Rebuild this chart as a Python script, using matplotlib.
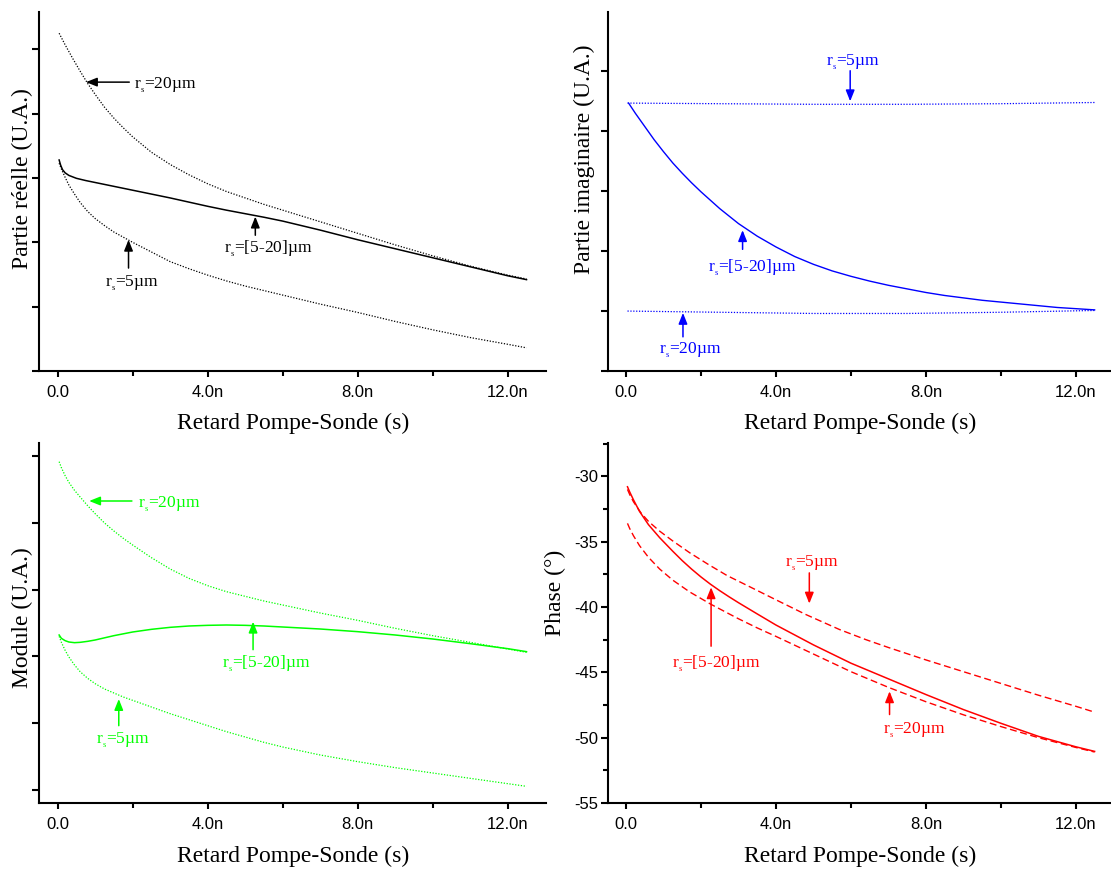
import numpy as np
import matplotlib
matplotlib.use("Agg")
import matplotlib.pyplot as plt
from matplotlib.ticker import FixedLocator

plt.rcParams['mathtext.fontset'] = 'custom'
plt.rcParams['mathtext.rm'] = 'Liberation Serif'
plt.rcParams['mathtext.it'] = 'Liberation Serif:italic'
plt.rcParams['axes.unicode_minus'] = False

SERIF = 'Liberation Serif'
SANS = 'Liberation Sans'

# ---------------- data (time in ns) ----------------
x_major = [0, 4, 8, 12]
x_minor = [2, 6, 10]
x_labels = ['0.0', '4.0n', '8.0n', '12.0n']

# Partie reelle
t_re20 = [0.04, 0.2, 0.4, 0.6, 0.8, 1.0, 1.25, 1.5, 1.75, 2.0, 2.5, 3.0, 3.5, 4.0, 4.5,
          5.0, 5.5, 6.0, 7.0, 8.0, 9.0, 10.0, 11.0, 12.0, 12.5]
re_20 = [5.25, 5.07, 4.86, 4.66, 4.47, 4.30, 4.10, 3.93, 3.78, 3.64, 3.40, 3.21, 3.05, 2.91,
         2.79, 2.69, 2.59, 2.50, 2.32, 2.14, 1.96, 1.79, 1.63, 1.49, 1.43]
t_remix = [0.04, 0.08, 0.13, 0.2, 0.3, 0.5, 0.75, 1.0, 1.5, 2.0, 2.5, 3.0, 3.5, 4.0, 4.5,
           5.0, 5.5, 6.0, 7.0, 8.0, 9.0, 10.0, 11.0, 12.0, 12.5]
re_mix = [3.28, 3.20, 3.13, 3.08, 3.04, 2.995, 2.96, 2.93, 2.87, 2.81, 2.75, 2.69, 2.625, 2.56,
          2.50, 2.445, 2.39, 2.33, 2.19, 2.04, 1.90, 1.76, 1.62, 1.48, 1.42]
t_re5 = [0.04, 0.1, 0.2, 0.3, 0.45, 0.6, 0.8, 1.0, 1.25, 1.5, 1.75, 2.0, 2.5, 3.0, 3.5, 4.0,
         4.5, 5.0, 5.5, 6.0, 7.0, 8.0, 9.0, 10.0, 11.0, 12.0, 12.5]
re_5 = [3.23, 3.14, 3.01, 2.89, 2.75, 2.62, 2.48, 2.37, 2.26, 2.16, 2.08, 2.00, 1.85, 1.70,
        1.59, 1.49, 1.40, 1.32, 1.25, 1.18, 1.04, 0.91, 0.77, 0.64, 0.52, 0.415, 0.36]

# Partie imaginaire
t_im_flat = [0.04, 2.5, 5.0, 7.5, 10.0, 12.5]
im_5 = [4.47, 4.46, 4.45, 4.45, 4.46, 4.48]
im_20 = [1.00, 0.98, 0.96, 0.96, 0.98, 1.01]
t_im = [0.07, 0.25, 0.5, 0.75, 1.0, 1.25, 1.5, 1.75, 2.0, 2.5, 3.0, 3.5, 4.0, 4.5, 5.0, 5.5,
        6.0, 6.5, 7.0, 7.5, 8.0, 8.5, 9.0, 9.5, 10.0, 10.5, 11.0, 11.5, 12.0, 12.5]
im_mix = [4.47, 4.30, 4.08, 3.86, 3.66, 3.47, 3.30, 3.14, 2.99, 2.71, 2.46, 2.25, 2.07, 1.91,
          1.78, 1.67, 1.58, 1.50, 1.43, 1.37, 1.31, 1.26, 1.22, 1.18, 1.15, 1.12, 1.09, 1.06,
          1.04, 1.02]

# Module
t_mod20 = [0.04, 0.1, 0.2, 0.3, 0.45, 0.6, 0.8, 1.0, 1.25, 1.5, 1.75, 2.0, 2.5, 3.0, 3.5,
           4.0, 4.5, 5.0, 5.5, 6.0, 7.0, 8.0, 9.0, 10.0, 11.0, 12.0, 12.5]
mod_20 = [4.92, 4.83, 4.71, 4.61, 4.49, 4.39, 4.26, 4.14, 4.00, 3.88, 3.77, 3.67, 3.48, 3.31,
          3.17, 3.06, 2.97, 2.90, 2.83, 2.77, 2.65, 2.54, 2.42, 2.31, 2.21, 2.11, 2.06]
t_modmix = [0.04, 0.1, 0.2, 0.3, 0.45, 0.6, 0.8, 1.0, 1.5, 2.0, 2.5, 3.0, 3.5, 4.0, 4.5,
            5.0, 5.5, 6.0, 7.0, 8.0, 9.0, 10.0, 11.0, 12.0, 12.5]
mod_mix = [2.32, 2.27, 2.235, 2.215, 2.205, 2.21, 2.225, 2.245, 2.31, 2.365, 2.405, 2.435,
           2.455, 2.465, 2.47, 2.465, 2.455, 2.44, 2.41, 2.37, 2.32, 2.26, 2.19, 2.115, 2.07]
t_mod5 = [0.04, 0.1, 0.2, 0.3, 0.45, 0.6, 0.8, 1.0, 1.25, 1.5, 1.75, 2.0, 2.5, 3.0, 3.5,
          4.0, 4.5, 5.0, 5.5, 6.0, 7.0, 8.0, 9.0, 10.0, 11.0, 12.0, 12.5]
mod_5 = [2.30, 2.21, 2.09, 1.99, 1.87, 1.77, 1.67, 1.59, 1.51, 1.45, 1.39, 1.34, 1.24, 1.14,
         1.05, 0.96, 0.87, 0.79, 0.71, 0.64, 0.52, 0.42, 0.33, 0.25, 0.17, 0.09, 0.05]

# Phase
t_ph = [0.04, 0.1, 0.2, 0.36, 0.6, 0.9, 1.25, 1.5, 1.75, 2.0, 2.25, 2.5, 2.75, 3.0, 3.5,
        4.0, 5.0, 6.0, 7.0, 8.0, 9.0, 10.0, 11.0, 12.0, 12.5]
ph_mix = [-30.8, -31.2, -31.8, -32.68, -33.7, -34.7, -35.74, -36.45, -37.1, -37.7, -38.25,
          -38.75, -39.22, -39.67, -40.53, -41.38, -42.9, -44.3, -45.5, -46.7, -47.85, -48.9,
          -49.9, -50.7, -51.05]
t_ph5 = [0.04, 0.1, 0.2, 0.4, 0.6, 0.9, 1.25, 1.7, 2.2, 2.7, 3.3, 4.0, 4.8, 5.7, 6.4, 7.0,
         8.0, 9.0, 10.0, 11.0, 12.0, 12.5]
ph_5 = [-31.0, -31.4, -31.95, -32.8, -33.45, -34.2, -34.95, -35.85, -36.75, -37.6, -38.45,
        -39.45, -40.58, -41.73, -42.5, -43.1, -44.05, -44.95, -45.85, -46.75, -47.6, -48.05]
t_ph20 = [0.04, 0.1, 0.2, 0.36, 0.6, 0.9, 1.25, 1.7, 2.27, 2.7, 3.0, 3.5, 4.0, 5.0,
          6.0, 7.0, 8.0, 9.0, 10.0, 11.0, 12.0, 12.5]
ph_20 = [-33.6, -34.0, -34.55, -35.3, -36.2, -37.1, -37.95, -38.85, -39.8, -40.45, -40.9,
         -41.6, -42.25, -43.6, -44.95, -46.15, -47.25, -48.25, -49.15, -50.0, -50.75, -51.1]

xlabel = 'Retard Pompe-Sonde (s)'
lab5 = r'r$_{_{\mathregular{s}}}$=5µm'
lab20 = r'r$_{_{\mathregular{s}}}$=20µm'
labmix = r'r$_{_{\mathregular{s}}}$=[5-20]µm'

# ---------------- figure ----------------
fig = plt.figure(figsize=(11.11, 8.71), dpi=100)
W, H = 1111.0, 871.0


def make_ax(left, top, right, bottom):
    return fig.add_axes([left / W, 1 - bottom / H, (right - left) / W, (bottom - top) / H])


ax_re = make_ax(38.5, 12, 546.4, 371)
ax_im = make_ax(607.5, 12, 1110, 371)
ax_mod = make_ax(38.5, 443, 546.4, 803)
ax_ph = make_ax(607.5, 443, 1110, 803)

DOT = (0, (1.0, 1.3))
DASH = (0, (5.0, 2.6))


def style(ax, xlim, ylim, yticks, ylabel, ylab_xy, yminor=None, ylabels=False):
    for s in ['top', 'right']:
        ax.spines[s].set_visible(False)
    for s in ['left', 'bottom']:
        ax.spines[s].set_linewidth(1.5)
    ax.set_xlim(*xlim)
    ax.set_ylim(*ylim)
    ax.xaxis.set_major_locator(FixedLocator(x_major))
    ax.xaxis.set_minor_locator(FixedLocator(x_minor))
    ax.set_xticklabels(x_labels)
    ax.yaxis.set_major_locator(FixedLocator(yticks))
    if yminor is not None:
        ax.yaxis.set_minor_locator(FixedLocator(yminor))
    ax.tick_params(axis='x', which='major', direction='out', length=4.2, width=1.5, pad=6.0,
                   labelsize=12)
    ax.tick_params(axis='x', which='minor', direction='out', length=3.4, width=1.5)
    ax.tick_params(axis='y', which='major', direction='out', length=5.0, width=1.5, pad=1.5,
                   labelsize=12, labelleft=ylabels)
    ax.tick_params(axis='y', which='minor', direction='out', length=3.6, width=1.5)
    for lab in ax.get_xticklabels() + ax.get_yticklabels():
        lab.set_fontfamily(SANS)
    ax.set_xlabel(xlabel, fontsize=17, fontfamily=SERIF, va='center')
    ax.xaxis.set_label_coords(0.502, -0.147)
    ax.set_ylabel(ylabel, fontsize=17, fontfamily=SERIF, va='center')
    ax.yaxis.set_label_coords(*ylab_xy)


def note(ax, text, color, txy, tail, tip):
    ax.annotate('', xy=tip, xytext=tail,
                arrowprops=dict(arrowstyle='-|>,head_length=0.55,head_width=0.22',
                                color=color, lw=1.1, shrinkA=0, shrinkB=0,
                                mutation_scale=12))
    ax.text(txy[0], txy[1], text, color=color, fontsize=12.5, fontfamily=SERIF,
            ha='left', va='baseline')


# ---- Partie reelle ----
c = 'black'
ax_re.plot(t_re20, re_20, color=c, lw=0.9, ls=DOT)
ax_re.plot(t_re5, re_5, color=c, lw=0.9, ls=DOT)
ax_re.plot(t_remix, re_mix, color=c, lw=1.1)
style(ax_re, (-0.51, 13.03), (0, 5.58), [0, 1, 2, 3, 4, 5], 'Partie réelle (U.A.)',
      (-0.031, 0.535))
note(ax_re, lab20, c, (2.03, 4.38), (1.91, 4.49), (0.755, 4.49))
note(ax_re, labmix, c, (4.44, 1.835), (5.27, 2.11), (5.27, 2.40))
note(ax_re, lab5, c, (1.25, 1.30), (1.89, 1.60), (1.89, 2.04))

# ---- Partie imaginaire ----
c = '#0000FF'
ax_im.plot(t_im_flat, im_5, color=c, lw=0.9, ls=DOT)
ax_im.plot(t_im_flat, im_20, color=c, lw=0.9, ls=DOT)
ax_im.plot(t_im, im_mix, color=c, lw=1.0)
style(ax_im, (-0.493, 12.91), (0, 5.99), [0, 1, 2, 3, 4, 5, 6], 'Partie imaginaire (U.A.)',
      (-0.046, 0.59))
note(ax_im, lab5, c, (5.33, 5.09), (5.98, 5.01), (5.98, 4.50))
note(ax_im, labmix, c, (2.18, 1.66), (3.11, 2.03), (3.11, 2.35))
note(ax_im, lab20, c, (0.89, 0.28), (1.52, 0.57), (1.52, 0.97))

# ---- Module ----
c = '#00FF00'
ax_mod.plot(t_mod20, mod_20, color=c, lw=0.9, ls=DOT)
ax_mod.plot(t_mod5, mod_5, color=c, lw=0.9, ls=DOT)
ax_mod.plot(t_modmix, mod_mix, color=c, lw=1.1)
style(ax_mod, (-0.51, 13.03), (-0.2, 5.2), [0, 1, 2, 3, 4, 5], 'Module (U.A.)',
      (-0.031, 0.515))
note(ax_mod, lab20, c, (2.15, 4.22), (1.98, 4.33), (0.84, 4.33))
note(ax_mod, labmix, c, (4.37, 1.82), (5.21, 2.10), (5.21, 2.52))
note(ax_mod, lab5, c, (1.03, 0.69), (1.63, 0.96), (1.63, 1.36))

# ---- Phase ----
c = '#FF0000'
ax_ph.plot(t_ph5, ph_5, color=c, lw=1.0, ls=DASH)
ax_ph.plot(t_ph20, ph_20, color=c, lw=1.0, ls=DASH)
ax_ph.plot(t_ph, ph_mix, color=c, lw=1.1)
style(ax_ph, (-0.493, 12.91), (-55, -27.45), [-55, -50, -45, -40, -35, -30], 'Phase (°)',
      (-0.1045, 0.583), yminor=[-52.5, -47.5, -42.5, -37.5, -32.5, -27.5], ylabels=True)
ax_ph.tick_params(axis='y', which='major', length=5.3)
note(ax_ph, lab5, c, (4.24, -36.96), (4.89, -37.39), (4.89, -39.74))
note(ax_ph, labmix, c, (1.22, -44.66), (2.27, -43.0), (2.27, -38.49))
note(ax_ph, lab20, c, (6.86, -49.69), (7.03, -48.23), (7.03, -46.45))

fig.savefig('out.png', dpi=100)
